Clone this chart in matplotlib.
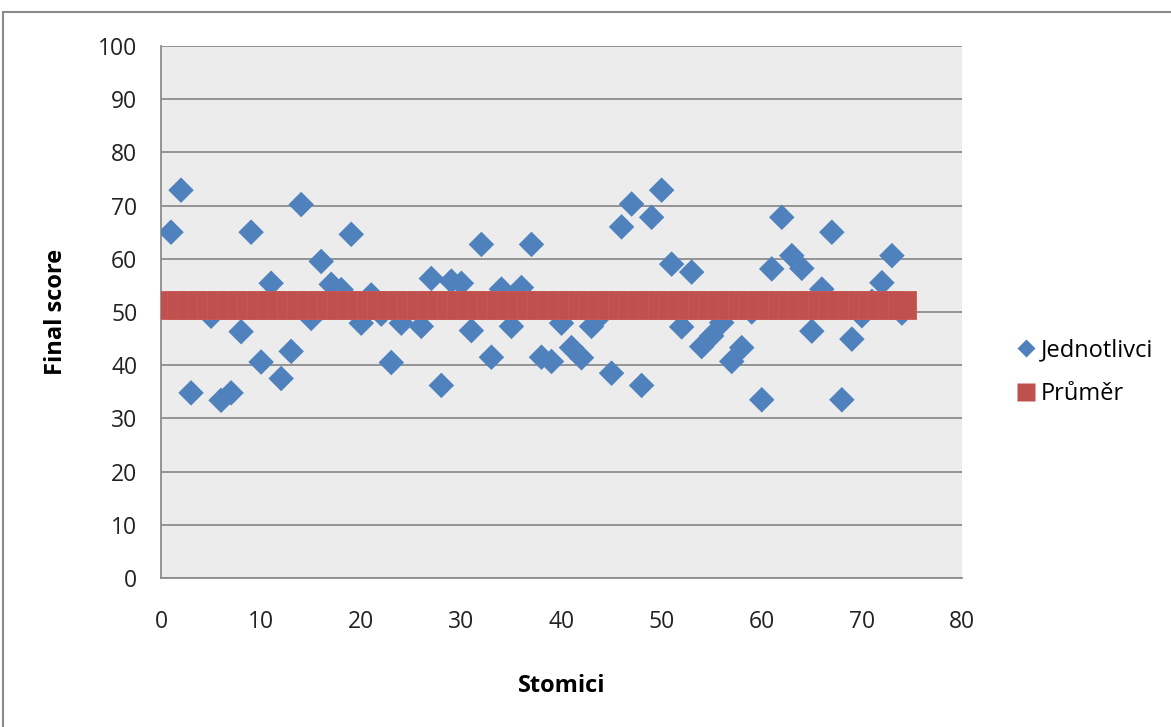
import matplotlib.pyplot as plt
from matplotlib.patches import Rectangle
from matplotlib.lines import Line2D
import numpy as np

# -----------------------------------------------------------------------------
# data
scores = [65.0, 72.9, 34.8, 51.5, 49.2, 33.4, 34.8, 46.3, 65.0, 40.6,
          55.4, 37.5, 42.6, 70.2, 48.8, 59.5, 55.2, 54.2, 64.6, 47.9,
          53.2, 49.6, 40.5, 47.9, 51.5, 47.3, 56.3, 36.2, 55.8, 55.4,
          46.5, 62.7, 41.5, 54.3, 47.3, 54.6, 62.7, 41.5, 40.7, 47.9,
          43.3, 41.4, 47.3, 49.5, 38.5, 66.0, 70.3, 36.2, 67.8, 72.9,
          59.0, 47.2, 57.5, 43.5, 45.5, 48.0, 40.7, 43.3, 50.0, 33.5,
          58.1, 67.8, 60.6, 58.2, 46.4, 54.3, 65.0, 33.5, 44.9, 49.3,
          52.0, 55.5, 60.6, 49.8]
stomici = np.arange(1, len(scores) + 1)
prumer_value = 51.4
prumer = [prumer_value] * len(scores)

x_ticks = [0, 10, 20, 30, 40, 50, 60, 70, 80]
y_ticks = [0, 10, 20, 30, 40, 50, 60, 70, 80, 90, 100]

BLUE = "#4F81BD"
RED = "#C0504D"
FONT = ["Open Sans", "DejaVu Sans"]

# -----------------------------------------------------------------------------
plt.rcParams['font.family'] = FONT
W, H = 1171, 727
fig = plt.figure(figsize=(W / 100, H / 100), dpi=100)

# outer chart frame (only top and left visible)
fig.patches.append(Rectangle((3.5 / W, -0.1), 1.2, 1.1 - 12 / H,
                             transform=fig.transFigure, fill=False,
                             edgecolor="#8a8a8a", linewidth=1.5))

ax = fig.add_axes([161 / W, 1 - 578 / H, (962 - 161) / W, (578 - 46) / H])
ax.set_facecolor("#ECECEC")

ax.scatter(stomici, scores, marker="D", s=13 ** 2, color=BLUE,
           edgecolors="none", zorder=3)
ax.plot(stomici, prumer, linestyle="none", marker="s", markersize=20,
        markerfacecolor=RED, markeredgecolor="#C85855",
        markeredgewidth=0.6, zorder=4)

ax.set_xlim(0, 80)
ax.set_ylim(0, 100)
ax.set_xticks(x_ticks)
ax.set_yticks(y_ticks)
ax.tick_params(length=0, labelsize=16.5, colors="#222222")
ax.tick_params(axis="y", pad=17)
ax.tick_params(axis="x", pad=23)
ax.grid(axis="y", color="#8c8c8c", linewidth=1.3)
ax.set_axisbelow(True)
for side in ["top", "right"]:
    ax.spines[side].set_visible(False)
for side in ["left", "bottom"]:
    ax.spines[side].set_color("#8c8c8c")
    ax.spines[side].set_linewidth(1.3)

ax.set_ylabel("Final score", fontsize=17, fontweight="bold", labelpad=22)
ax.set_xlabel("Stomici", fontsize=17, fontweight="bold", labelpad=29)

handles = [
    Line2D([], [], linestyle="none", marker="D", markersize=9,
           markerfacecolor=BLUE, markeredgecolor="none"),
    Line2D([], [], linestyle="none", marker="s", markersize=13,
           markerfacecolor=RED, markeredgecolor="none"),
]
fig.legend(handles, ["Jednotlivci", "Průměr"], loc="center left",
           bbox_to_anchor=(998 / W, 1 - 372 / H), frameon=False,
           fontsize=17, handlelength=0.6, handletextpad=0.3,
           labelspacing=0.85)

fig.savefig("out.png", dpi=100)
